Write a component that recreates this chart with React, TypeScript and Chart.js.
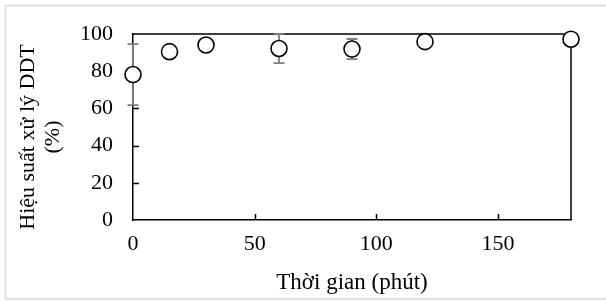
import React, { useEffect, useRef } from "react";
import { Chart, registerables } from "chart.js";

Chart.register(...registerables);

const TIMES = [0, 15, 30, 60, 90, 120, 180];
const EFFICIENCY = [78.2, 90.5, 94.1, 92.2, 91.9, 95.9, 97.2];
const ERRORS = [16.4, 0, 0, 7.9, 5.4, 0, 0];
const X_TICKS = [0, 50, 100, 150];
const Y_TICKS = [0, 20, 40, 60, 80, 100];
const X_TITLE = "Thời gian (phút)";
const Y_TITLE = ["Hiệu suất xử lý DDT", "(%)"];

const FONT = "'Liberation Serif', 'Times New Roman', serif";

const decorPlugin = {
  id: "decor",
  beforeDraw(chart: any) {
    const ctx = chart.ctx;
    ctx.save();
    ctx.fillStyle = "#ffffff";
    ctx.fillRect(0, 0, chart.width, chart.height);
    ctx.strokeStyle = "#d9d9d9";
    ctx.lineWidth = 1.5;
    ctx.beginPath();
    ctx.moveTo(chart.width + 5, 5.5);
    ctx.lineTo(5.5, 5.5);
    ctx.lineTo(5.5, 299);
    ctx.lineTo(chart.width + 5, 299);
    ctx.stroke();
    ctx.restore();
  },
  beforeDatasetsDraw(chart: any) {
    const ctx = chart.ctx;
    const { left, right, top, bottom } = chart.chartArea;
    const xs = chart.scales.x;
    const ys = chart.scales.y;
    ctx.save();
    ctx.strokeStyle = "#000000";
    ctx.lineWidth = 1.5;
    ctx.beginPath();
    ctx.moveTo(left, top);
    ctx.lineTo(right, top);
    ctx.lineTo(right, bottom);
    ctx.stroke();
    ctx.beginPath();
    Y_TICKS.forEach((v) => {
      if (v === 0 || v === 100) return;
      const y = Math.round(ys.getPixelForValue(v)) + 0.5;
      ctx.moveTo(left, y);
      ctx.lineTo(left + 6, y);
    });
    X_TICKS.forEach((v) => {
      if (v === 0) return;
      const x = Math.round(xs.getPixelForValue(v)) + 0.5;
      ctx.moveTo(x, bottom);
      ctx.lineTo(x, bottom - 6);
    });
    ctx.stroke();
    ctx.strokeStyle = "#7f7f7f";
    ctx.lineWidth = 1.8;
    ctx.beginPath();
    TIMES.forEach((t, i) => {
      const e = ERRORS[i];
      if (!e) return;
      const x = xs.getPixelForValue(t);
      const y1 = ys.getPixelForValue(EFFICIENCY[i] + e);
      const y2 = ys.getPixelForValue(EFFICIENCY[i] - e);
      ctx.moveTo(x, y1);
      ctx.lineTo(x, y2);
      ctx.moveTo(x - 5.5, y1);
      ctx.lineTo(x + 5.5, y1);
      ctx.moveTo(x - 5.5, y2);
      ctx.lineTo(x + 5.5, y2);
    });
    ctx.stroke();
    ctx.restore();
  },
  afterDraw(chart: any) {
    const ctx = chart.ctx;
    const { left, right, top, bottom } = chart.chartArea;
    ctx.save();
    ctx.fillStyle = "#000000";
    ctx.textAlign = "center";
    ctx.textBaseline = "middle";
    ctx.font = `23px ${FONT}`;
    ctx.fillText(X_TITLE, (left + right) / 2, bottom + 63);
    ctx.font = `22px ${FONT}`;
    ctx.translate(left - 105, (top + bottom) / 2 + 10);
    ctx.rotate(-Math.PI / 2);
    Y_TITLE.forEach((line, i) => {
      ctx.fillText(line, 0, i * 25);
    });
    ctx.restore();
  },
};

export default function App() {
  const ref = useRef<HTMLCanvasElement | null>(null);
  useEffect(() => {
    if (!ref.current) return;
    const chart = new Chart(ref.current, {
      type: "scatter",
      data: {
        datasets: [
          {
            data: TIMES.map((t, i) => ({ x: t, y: EFFICIENCY[i] })),
            pointRadius: 8,
            pointHoverRadius: 8,
            pointBackgroundColor: "#ffffff",
            pointBorderColor: "#000000",
            pointBorderWidth: 1.6,
            clip: false as any,
          },
        ],
      },
      options: {
        animation: false,
        responsive: false,
        layout: { padding: { left: 0, right: 35, top: 34, bottom: 0 } },
        plugins: { legend: { display: false }, tooltip: { enabled: false } },
        scales: {
          x: {
            type: "linear",
            min: 0,
            max: 180,
            afterBuildTicks: (s: any) => {
              s.ticks = X_TICKS.map((v) => ({ value: v }));
            },
            afterFit: (s: any) => {
              s.height = 81;
            },
            grid: { display: false, drawTicks: false },
            border: { display: true, color: "#000000", width: 1.5 },
            ticks: {
              padding: 11,
              color: "#000000",
              font: { family: FONT, size: 22 },
              maxRotation: 0,
            },
          },
          y: {
            type: "linear",
            min: 0,
            max: 100,
            afterBuildTicks: (s: any) => {
              s.ticks = Y_TICKS.map((v) => ({ value: v }));
            },
            afterFit: (s: any) => {
              s.width = 133;
            },
            grid: { display: false, drawTicks: false },
            border: { display: true, color: "#000000", width: 1.5 },
            ticks: {
              padding: 20,
              color: "#000000",
              font: { family: FONT, size: 22 },
            },
          },
        },
      },
      plugins: [decorPlugin],
    });
    return () => chart.destroy();
  }, []);
  return (
    <div style={{ position: "fixed", left: 0, top: 0, width: 606, height: 301 }}>
      <canvas ref={ref} width={606} height={301} style={{ display: "block" }} />
    </div>
  );
}
